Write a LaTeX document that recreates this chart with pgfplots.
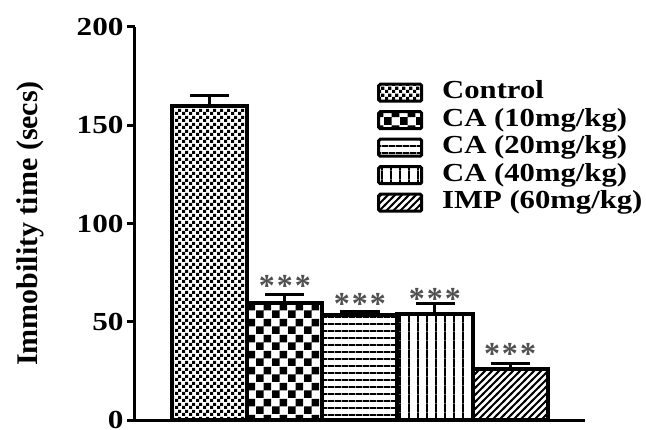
\documentclass[border=0pt]{standalone}
\usepackage{pgfplots}
\pgfplotsset{compat=1.18}
\usepackage{fontspec}
\setmainfont{Liberation Serif}
\usepackage{graphicx}
\usetikzlibrary{patterns}

\pgfdeclarepatternformonly{finecheck}{\pgfpointorigin}{\pgfqpoint{7pt}{7pt}}{\pgfqpoint{7pt}{7pt}}{%
  \pgfpathrectangle{\pgfpointorigin}{\pgfqpoint{3.5pt}{3.5pt}}%
  \pgfpathrectangle{\pgfqpoint{3.5pt}{3.5pt}}{\pgfqpoint{3.5pt}{3.5pt}}%
  \pgfusepath{fill}}
\pgfdeclarepatternformonly{bigcheck}{\pgfpointorigin}{\pgfqpoint{16pt}{16pt}}{\pgfqpoint{16pt}{16pt}}{%
  \pgfpathrectangle{\pgfpointorigin}{\pgfqpoint{8pt}{8pt}}%
  \pgfpathrectangle{\pgfqpoint{8pt}{8pt}}{\pgfqpoint{8pt}{8pt}}%
  \pgfusepath{fill}}
\pgfdeclarepatternformonly{hlinesB}{\pgfpointorigin}{\pgfqpoint{6.7pt}{6.7pt}}{\pgfqpoint{6.7pt}{6.7pt}}{%
  \pgfpathrectangle{\pgfpointorigin}{\pgfqpoint{6.7pt}{2pt}}%
  \pgfusepath{fill}}
\pgfdeclarepatternformonly{vlinesB}{\pgfpointorigin}{\pgfqpoint{9.3pt}{9.3pt}}{\pgfqpoint{9.3pt}{9.3pt}}{%
  \pgfpathrectangle{\pgfpointorigin}{\pgfqpoint{2pt}{9.3pt}}%
  \pgfusepath{fill}}
\pgfdeclarepatternformonly{diagB}{\pgfqpoint{-2pt}{-2pt}}{\pgfqpoint{9pt}{9pt}}{\pgfqpoint{7pt}{7pt}}{%
  \pgfsetlinewidth{1.8pt}%
  \pgfpathmoveto{\pgfqpoint{-1pt}{-1pt}}%
  \pgfpathlineto{\pgfqpoint{8pt}{8pt}}%
  \pgfusepath{stroke}}

\definecolor{stargray}{RGB}{80,80,80}
\newcommand{\stars}{*\hspace{2pt}*\hspace{2pt}*}

\pgfplotsset{
  mybar/.style={ybar, bar width=75pt, bar shift=0pt, draw=black, line width=4pt,
    legend image code/.code={\draw[##1, line width=3pt, rounded corners=1.5pt] (0pt,-8.5pt) rectangle (43pt,8.5pt);},
    error bars/y dir=plus, error bars/y explicit,
    error bars/error mark=|,
    error bars/error bar style={line width=3pt, black},
    error bars/error mark options={black, line width=3pt, mark size=19.5pt}},
}

\begin{document}
\begin{tikzpicture}
\begin{axis}[
  scale only axis, width=450pt, height=393pt,
  xmin=0, xmax=6, ymin=0, ymax=200,
  axis lines=left, axis line style={-, line width=3pt},
  ytick={0,50,100,150,200}, xtick=\empty,
  tick style={line width=3pt, black}, major tick length=8pt, tick align=outside,
  /pgf/number format/assume math mode=true,
  yticklabel={\scalebox{1.2}[1]{\pgfmathprintnumber{\tick}}},
  ticklabel style={font=\fontsize{26}{26}\selectfont\bfseries},
  ylabel={Immobility time (secs)},
  every axis y label/.style={at={(axis description cs:-0.233,0.5)}, rotate=90, anchor=center, font=\fontsize{30}{30}\selectfont\bfseries},
  legend style={at={(axis description cs:0.5378,0.8639)}, anchor=north west, draw=none, fill=none, inner sep=0pt, row sep=3.5pt, column sep=19pt, font=\fontsize{26}{26}\selectfont\bfseries, nodes={inner sep=0pt, text height=18pt, text depth=6pt}},
  legend cell align=left,
  clip=false,
]
\addplot[mybar, pattern=finecheck] coordinates {(1,160) +- (0,5)};
\addlegendentry{\scalebox{1.18}[1]{Control}}
\addplot[mybar, pattern=bigcheck] coordinates {(2,59.5) +- (0,4.5)};
\addlegendentry{\scalebox{1.18}[1]{CA (10mg/kg)}}
\addplot[mybar, pattern=hlinesB] coordinates {(3,53.5) +- (0,1.5)};
\addlegendentry{\scalebox{1.18}[1]{CA (20mg/kg)}}
\addplot[mybar, pattern=vlinesB] coordinates {(4,54) +- (0,5.5)};
\addlegendentry{\scalebox{1.18}[1]{CA (40mg/kg)}}
\addplot[mybar, pattern=diagB] coordinates {(5,26) +- (0,2.6)};
\addlegendentry{\scalebox{1.18}[1]{IMP (60mg/kg)}}
\addplot[draw=none, mark=none, forget plot, nodes near coords={\stars},
  nodes near coords style={anchor=base, font=\fontsize{32}{32}\selectfont\bfseries, text=stargray}]
  coordinates {(2,63.1) (3,53.7) (4,56.3) (5,28.3)};
\coordinate (O) at (axis cs:0,0);
\end{axis}
\pgfresetboundingbox
\path[use as bounding box] ([shift={(-135pt,-9pt)}]O) rectangle ([shift={(511pt,420pt)}]O);
\end{tikzpicture}
\end{document}
